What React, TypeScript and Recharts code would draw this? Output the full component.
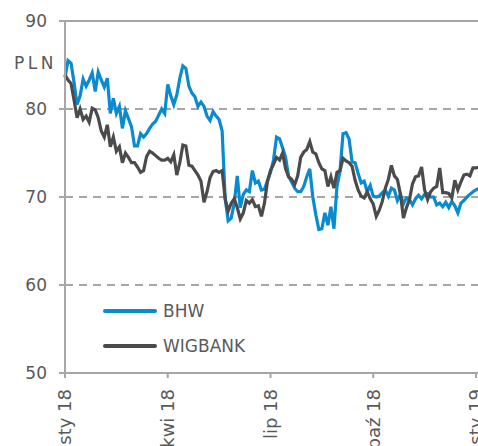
import { LineChart, Line, XAxis, YAxis, CartesianGrid, ReferenceLine, Legend } from "recharts";

const quarterLabels = ["sty 18", "kwi 18", "lip 18", "paź 18", "sty 19"];
const quarterTicks = [0, 34, 68, 102, 136];
const yTicks = [50, 60, 70, 80, 90];

const bhw = [
  83.6, 85.5, 85.2, 83.0, 80.5, 81.5, 83.4, 82.6, 83.3, 84.1,
  82.0, 84.2, 83.3, 82.5, 83.5, 79.5, 81.2, 79.5, 80.3, 77.8,
  79.8, 78.9, 78.0, 75.8, 75.8, 77.2, 76.8, 77.2, 77.8, 78.3,
  78.6, 79.3, 80.0, 79.5, 82.8, 81.5, 80.5, 81.6, 83.5, 84.9,
  84.6, 82.6, 81.8, 81.4, 80.3, 80.8, 80.3, 79.2, 78.7, 79.7,
  79.2, 78.8, 77.5, 69.8, 67.3, 67.6, 69.3, 72.4, 68.8, 70.3,
  70.8, 70.6, 73.0, 71.6, 71.8, 70.8, 70.9, 71.8, 72.8, 74.2,
  76.8, 76.6, 75.6, 74.5, 72.3, 71.7, 71.0, 70.6, 70.6, 71.2,
  72.3, 73.2, 70.0, 68.0, 66.3, 66.4, 68.2, 66.8, 68.9, 66.4,
  71.2, 72.9, 77.2, 77.3, 76.6, 74.0, 73.9, 72.7, 71.6, 71.8,
  70.6, 71.3, 70.1, 70.0, 70.1, 70.5, 70.8, 70.1, 71.0, 70.8,
  69.6, 70.3, 69.2, 69.9, 69.7, 69.1, 69.8, 70.2, 69.8, 70.3,
  70.4, 70.0, 70.0, 69.1, 69.3, 68.9, 69.4, 68.8, 69.5, 69.0,
  68.2, 69.3, 69.6, 70.0, 70.3, 70.6, 70.8, 71.0,
];

const wigbank = [
  83.9, 83.3, 82.9, 81.0, 79.0, 80.0, 78.8, 79.2, 78.5, 80.1,
  79.9, 79.0, 77.5, 76.8, 78.2, 75.7, 76.8, 75.2, 75.7, 73.9,
  75.0, 74.5, 73.9, 73.9, 73.4, 72.8, 73.0, 74.6, 75.2, 75.0,
  74.7, 74.4, 74.2, 74.2, 74.4, 74.0, 74.8, 72.5, 73.9, 75.9,
  75.8, 73.6, 73.5, 73.0, 72.5, 71.8, 69.4, 70.6, 72.2, 72.9,
  73.0, 72.8, 73.0, 69.8, 68.4, 69.3, 69.8, 68.8, 67.5, 68.2,
  69.6, 69.3, 69.7, 68.9, 69.0, 67.8, 69.3, 71.8, 73.0, 73.7,
  74.5, 74.2, 75.0, 73.2, 72.3, 72.0, 71.4, 72.4, 74.5, 75.1,
  75.4, 76.3, 75.1, 74.9, 73.9, 73.2, 73.0, 71.2, 72.3, 71.0,
  72.8, 73.0, 74.4, 74.1, 73.9, 73.5, 71.9, 70.8, 70.1, 69.9,
  70.6, 69.8, 69.2, 67.8, 68.5, 69.5, 71.0, 72.0, 73.6, 72.4,
  72.0, 70.3, 67.6, 68.8, 69.7, 71.5, 72.3, 72.4, 73.4, 70.8,
  69.7, 70.6, 71.0, 71.2, 73.3, 70.5, 70.5, 70.4, 69.9, 71.9,
  70.8, 71.7, 72.5, 72.6, 72.4, 73.3, 73.3, 73.4,
];

const data = bhw.map((v, i) => ({ i, BHW: v, WIGBANK: wigbank[i] }));

const font = "'DejaVu Sans', Verdana, sans-serif";
const textColor = "#595959";
const axisColor = "#a6a6a6";

const XTick = (props: any) => {
  const { x, y, payload } = props;
  const idx = quarterTicks.indexOf(payload.value);
  const ty = y + 9;
  return (
    <text
      x={x}
      y={ty}
      transform={`rotate(-90, ${x}, ${ty})`}
      textAnchor="end"
      dy="0.36em"
      fill={textColor}
      fontSize={18}
      fontFamily={font}
    >
      {quarterLabels[idx]}
    </text>
  );
};

const LegendBox = (props: any) => {
  const { payload } = props;
  return (
    <div style={{ fontFamily: font, fontSize: 17, color: textColor }}>
      {payload.map((p: any) => (
        <div key={p.value} style={{ display: "flex", alignItems: "center", height: 35 }}>
          <div style={{ width: 54, height: 4, background: p.color, borderRadius: 2, marginRight: 6 }} />
          <span>{p.value}</span>
        </div>
      ))}
    </div>
  );
};

export default function App() {
  return (
    <div style={{ position: "absolute", left: 0, top: 0, width: 478, height: 446, overflow: "hidden", background: "#fff" }}>
      <LineChart width={490} height={446} data={data} margin={{ top: 21, right: 11, bottom: 0, left: 0 }}>
        <CartesianGrid vertical={false} stroke={axisColor} strokeWidth={2} strokeDasharray="8 6" />
        <ReferenceLine y={90} stroke={axisColor} strokeWidth={2} />
        <XAxis
          type="number"
          dataKey="i"
          domain={[0, 137]}
          ticks={quarterTicks}
          interval={0}
          height={73}
          tickSize={5}
          stroke={axisColor}
          strokeWidth={2}
          tick={<XTick />}
        />
        <YAxis
          width={65}
          domain={[50, 90]}
          ticks={yTicks}
          tickSize={6}
          tickMargin={12}
          stroke={axisColor}
          strokeWidth={2}
          tick={{ fill: textColor, fontSize: 17, fontFamily: font }}
        />
        <Legend
          layout="horizontal"
          verticalAlign="middle"
          align="center"
          content={<LegendBox />}
          wrapperStyle={{ position: "absolute", left: 103, top: 293, width: 200 }}
        />
        <Line type="linear" dataKey="BHW" stroke="#0a8bd0" strokeWidth={3.2} dot={false} isAnimationActive={false} />
        <Line type="linear" dataKey="WIGBANK" stroke="#4b4b4d" strokeWidth={3.2} dot={false} isAnimationActive={false} />
      </LineChart>
      <div style={{ position: "absolute", left: 14, top: 53, fontFamily: font, fontSize: 17, color: textColor, letterSpacing: 3.5 }}>
        PLN
      </div>
    </div>
  );
}
